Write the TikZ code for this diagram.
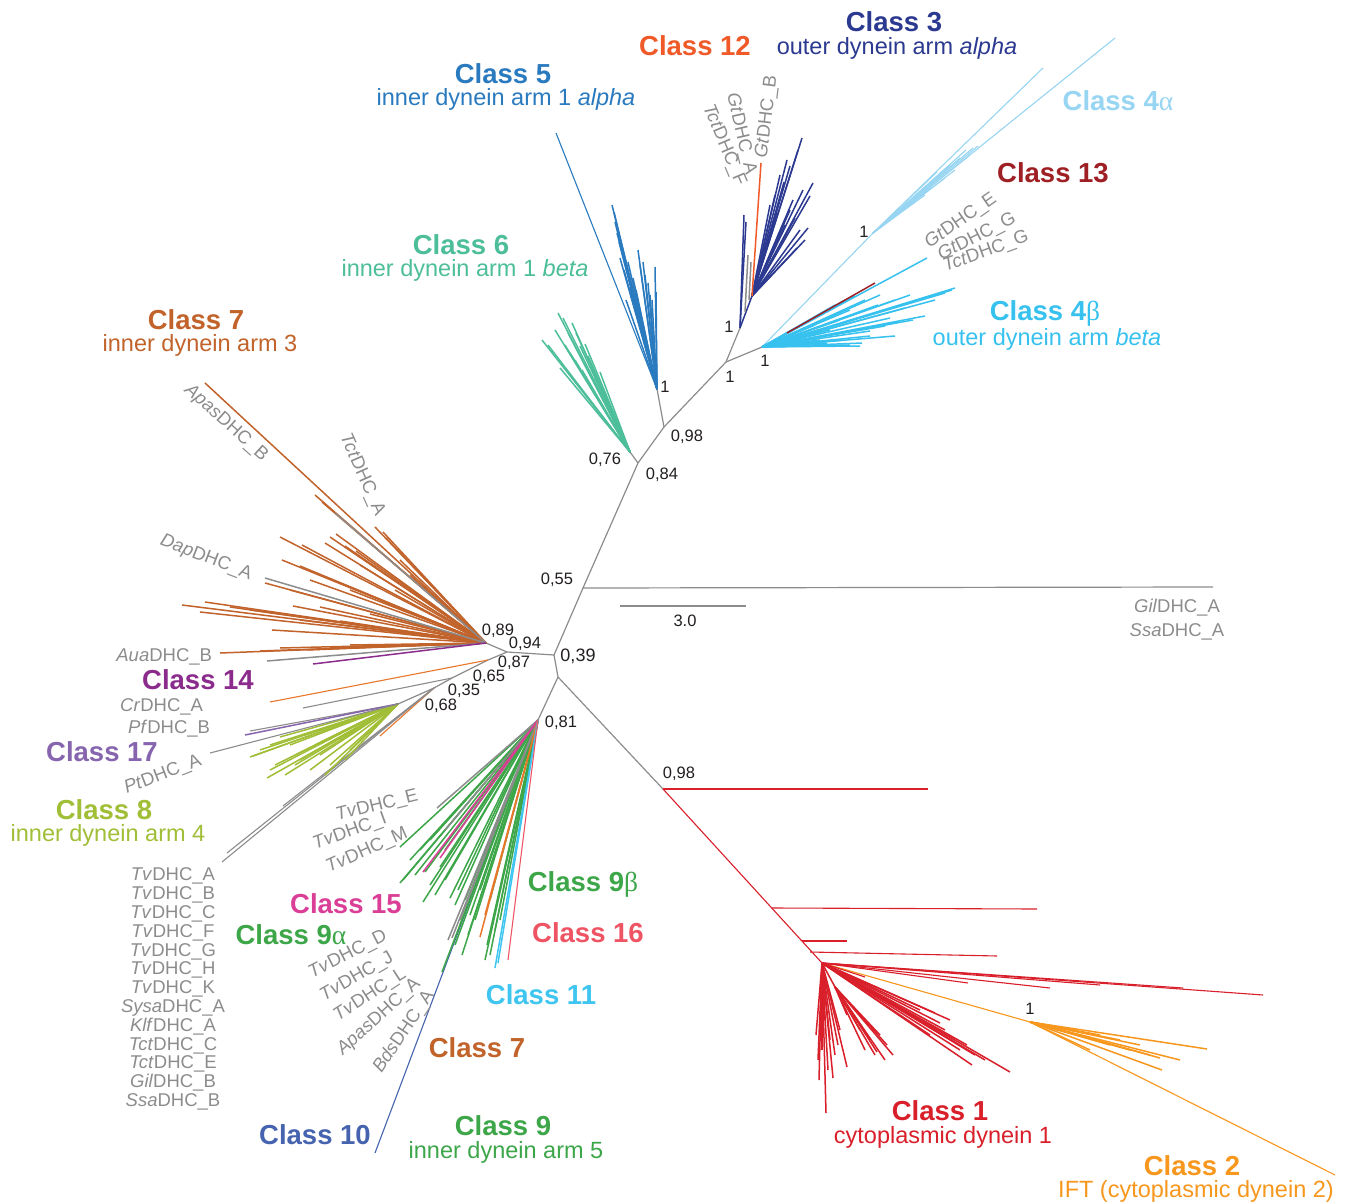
\documentclass[tikz,border=0pt]{standalone}
\usepackage{fontspec}
\setmainfont{Liberation Sans}
\newfontfamily\grk{Liberation Serif}
\definecolor{gry}{HTML}{8C8C8C}
\definecolor{blk}{HTML}{231F20}
\definecolor{cA}{HTML}{D91F2A}
\definecolor{cB}{HTML}{F7971D}
\definecolor{cC}{HTML}{2B3990}
\definecolor{cDa}{HTML}{97D5F2}
\definecolor{cDb}{HTML}{37C1EF}
\definecolor{cE}{HTML}{2A7ABF}
\definecolor{cF}{HTML}{4DBE9A}
\definecolor{cG}{HTML}{C1632B}
\definecolor{cGo}{HTML}{E8772A}
\definecolor{cH}{HTML}{A1BE37}
\definecolor{cI}{HTML}{3CA649}
\definecolor{cJ}{HTML}{4563AE}
\definecolor{cK}{HTML}{3EC5F0}
\definecolor{cL}{HTML}{F05A28}
\definecolor{cM}{HTML}{9E1F24}
\definecolor{cN}{HTML}{8B2C8D}
\definecolor{cO}{HTML}{DB3E96}
\definecolor{cP}{HTML}{EF5464}
\definecolor{cQ}{HTML}{8665AE}
\newcommand\leafset[3]{\foreach \lx/\ly in {#3}{\draw[#1] (#2) -- (\lx,\ly);}}
\begin{document}
\begin{tikzpicture}[x=1pt,y=-1pt,
  every node/.style={inner sep=0pt,outer sep=0pt},
  cls/.style={font=\bfseries\fontsize{27.5}{29}\selectfont},
  sub/.style={font=\fontsize{23.5}{25}\selectfont},
  gl/.style={font=\fontsize{18.5}{19.5}\selectfont,text=gry},
  num/.style={font=\fontsize{16.5}{18}\selectfont,text=blk},
  bb/.style={draw=gry,line width=1.2pt},
  fn/.style={line width=1.5pt},
  ln/.style={line width=1.1pt}]
\fill[white] (0,0) rectangle (1347,1204);
\useasboundingbox (0,0) rectangle (1347,1204);

% internal nodes
\coordinate (n55) at (583,588);
\coordinate (n84) at (638,463);
\coordinate (n98a) at (664,427);
\coordinate (n5) at (657,389);
\coordinate (n6) at (630,452);
\coordinate (n1a) at (726,362);
\coordinate (n3) at (740,328);
\coordinate (n3b) at (752,296);
\coordinate (n4) at (762,347);
\coordinate (n4a) at (873,233);
\coordinate (n13) at (787,333);
\coordinate (n39) at (554,655);
\coordinate (n94) at (507,652);
\coordinate (n89) at (486,643);
\coordinate (n87) at (488,660);
\coordinate (n65) at (452,678);
\coordinate (n35) at (434,688);
\coordinate (n8) at (398,704);
\coordinate (nsp) at (558,677);
\coordinate (n81) at (538,720);
\coordinate (n98b) at (663,789);
\coordinate (n1) at (822,963);
\coordinate (n1m) at (835,987);
\coordinate (n2) at (1030,1022);
\coordinate (n2s) at (865,977);
\coordinate (b1) at (772,908);
\coordinate (b2) at (802,941);
\coordinate (b3) at (810,952);
\coordinate (sbl) at (620,606);
\coordinate (sbr) at (746,606);
\coordinate (gend) at (1213,587);

% backbone
\draw[bb] (n55) -- (n84) -- (n98a) -- (n5);
\draw[bb] (n98a) -- (n1a) -- (n3);
\draw[bb] (n1a) -- (n4);
\draw[bb] (n84) -- (n6);
\draw[bb] (n55) -- (n39) -- (n94) -- (n89);
\draw[bb] (n94) -- (n87) -- (n65) -- (n35) -- (n8);
\draw[bb] (n39) -- (nsp) -- (n81);
\draw[bb] (nsp) -- (n98b);
\draw[bb] (n55) -- (gend);
\draw[bb] (sbl) -- (sbr);

% Class 5
\draw[cE,ln] (n5) -- (556,133);
\leafset{cE,fn}{n5}{612/205,614/212,617/233,619/242,622/250,628/262,630/287,626/300,640/265,643/262,645/275,648/283,650/295,652/300,655/267,656/292,633/278,636/290,624/270,620/258,615/222,638/250}
% Class 6
\leafset{cF,fn}{n6}{542/340,558/313,563/318,572/323,576/333,585/344,560/368,570/353,575/360,580/346,588/356,592/370,565/345,582/370,595/378,600/385,555/330,568/333,590/362,600/372,548/345}
% Class 3
\draw[cC,fn] (n3) -- (n3b);
\leafset{cC,fn}{n3}{744/215,746/222}
\leafset{cC,fn}{n3b}{787/160,790/166,802/138,798/150,813/183,808/228,797/248,780/175,784/182,775/195,793/200,790/210,800/230,805/240,770/205,777/212,785/225,795/218,803/190,810/196,772/230,765/250}
\draw[gry,fn] (745,312) -- (748,255);
\draw[gry,fn] (749,300) -- (751,262);
% Class 12
\draw[cL,fn] (n3b) -- (761,163);
% Class 4 alpha
\draw[cDa,ln] (n4) -- (n4a);
\leafset{cDa,ln}{n4a}{1115/38,1043/68,937/172,950/165,966/150,973/148,978/146,960/158,945/178,930/188,955/170,925/195,970/155}
% Class 4 beta
\leafset{cDb,fn}{n4}{927/258,955/288,952/290,945/293,913/320,925/316,900/322,890/318,862/343,860/346,827/343,845/340,870/331,885/326,905/308,878/305,865/300,850/310,840/320,830/330,815/325,820/315,845/300,855/296,835/305,870/336,895/336,850/345,820/340,880/295,895/300,910/295,935/300}
% Class 13
\draw[cM,fn] (n13) -- (875,283);
% Class 7 (upper)
\leafset{cG,fn}{n89}{205/383,315/495,322/502,375/527,383/532,386/538,280/537,302/545,330/537,336/534,325/543,345/546,356/551,265/583,272/630,182/605,205/602,200/612,293/606,320/607,250/610,230/607,300/620,340/621,370/614,290/590,310/580,282/560,300/566,320/575,350/590,380/600,220/653,307/650,280/648,330/648,350/645,260/651,400/560,410/575,395/590,360/565}
\leafset{gry,fn}{n89}{335/513,265/578,267/661}
\draw[cN,fn] (n89) -- (313,664);
% small branches 0,87 / 0,65 / 0,68
\draw[cGo,ln] (n87) -- (270,702);
\draw[gry,ln] (n65) -- (303,708);
\draw[cGo,ln] (n35) -- (380,736);
\leafset{gry,ln}{n35}{227/853,222/862,283/806}
% Class 8 and 17
\leafset{cH,fn}{n8}{280/737,250/757,267/778,253/756,270/745,290/745,300/760,275/765,310/770,285/775,320/755,330/765,295/755,260/750,315/745,340/740,305/735,350/750,270/770,295/765,345/760,325/775}
\draw[gry,ln] (n8) -- (250,731);
\draw[cQ,fn] (n8) -- (245,735);
\draw[gry,ln] (n8) -- (210,753);
% Class 9 group
\draw[cJ,ln] (n81) -- (375,1153);
\leafset{cI,fn}{n81}{400/883,403/880,400/847,423/902,450/898,425/872,440/867,410/860,415/875,430/885,445/880,455/905,460/925,468/935,470/915,435/895,420/850,430/840,445/850,458/890,465/900,475/920,480/890,490/900,442/972,487/945,495/930,500/920,485/960,490/955,462/955,455/945}
\leafset{gry,fn}{n81}{437/808,448/940,452/938,460/920,445/830}
\leafset{cO,fn}{n81}{423/872,440/858}
\leafset{cGo,fn}{n81}{480/937,485/915}
\leafset{cK,fn}{n81}{495/968,498/963}
\leafset{cP,ln}{n81}{508/960}
% Class 1 and 2
\draw[cA,ln] (n98b) -- (928,789);
\draw[cA,ln] (n98b) -- (n1);
\draw[cA,ln] (b1) -- (1037,909);
\draw[cA,ln] (b2) -- (847,941);
\draw[cA,ln] (b3) -- (997,956);
\draw[cB,ln] (n1) -- (n2);
\leafset{cB,fn}{n2}{1207/1049,1180/1060,1162/1070,1150/1055,1140/1045,1120/1040,1100/1035,1130/1050,1160/1058,1110/1045,1075/1030,1090/1050}
\draw[cB,ln] (n2) -- (1335,1175);
\leafset{cA,ln}{n1}{1263/995,1183/988,1100/985,968/983,1050/988}
\draw[cA,ln] (n1) -- (n2s);
\leafset{cA,fn}{n1}{819/1080,826/1113,847/1067,818/1060,822/1050,830/1040,835/1055,840/1030,828/1070,833/1078,816/1035,825/1020,838/1045}
\draw[cA,fn] (n1) -- (n1m);
\leafset{cA,fn}{n1m}{877/1052,893/1055,887/1045,847/1015,870/1040,880/1035,860/1030,875/1055,865/1050,885/1060}
\leafset{cA,fn}{n1}{972/1065,1010/1072,935/1013,940/1023,967/1045,955/1040,945/1030,960/1050,975/1055,950/1020,920/1010,930/1035,985/1060}

% class labels
\node[cls,text=cC] (t3) at (894,22) {Class 3};
\node[sub,text=cC] (s3) at (897,48) {outer dynein arm \textit{alpha}};
\node[cls,text=cL] (t12) at (695,46) {Class 12};
\node[cls,text=cE] (t5) at (503,74) {Class 5};
\node[sub,text=cE] (s5) at (506,99) {inner dynein arm 1 \textit{alpha}};
\node[cls,text=cDa] (t4a) at (1118,101) {Class 4{\grk\mdseries α}};
\node[cls,text=cM] (t13) at (1053,173) {Class 13};
\node[cls,text=cF] (t6) at (461,245) {Class 6};
\node[sub,text=cF] (s6) at (465,270) {inner dynein arm 1 \textit{beta}};
\node[cls,text=cDb] (t4b) at (1045,313) {Class 4{\grk\mdseries β}};
\node[sub,text=cDb] (s4b) at (1047,339) {outer dynein arm \textit{beta}};
\node[cls,text=cG] (t7) at (196,320) {Class 7};
\node[sub,text=cG] (s7) at (200,345) {inner dynein arm 3};
\node[cls,text=cN] (t14) at (198,680) {Class 14};
\node[cls,text=cQ] (t17) at (102,752) {Class 17};
\node[cls,text=cH] (t8) at (104,810) {Class 8};
\node[sub,text=cH] (s8) at (108,835) {inner dynein arm 4};
\node[cls,text=cO] (t15) at (346,904) {Class 15};
\node[cls,text=cI] (t9a) at (291,935) {Class 9{\grk\mdseries α}};
\node[cls,text=cI] (t9b) at (583,884) {Class 9{\grk\mdseries β}};
\node[cls,text=cP] (t16) at (588,933) {Class 16};
\node[cls,text=cK] (t11) at (541,995) {Class 11};
\node[cls,text=cG] (t7b) at (477,1048) {Class 7};
\node[cls,text=cJ] (t10) at (315,1135) {Class 10};
\node[cls,text=cI] (t9) at (503,1126) {Class 9};
\node[sub,text=cI] (s9) at (506,1152) {inner dynein arm 5};
\node[cls,text=cA] (t1) at (940,1111) {Class 1};
\node[sub,text=cA] (s1) at (943,1137) {cytoplasmic dynein 1};
\node[cls,text=cB] (t2) at (1192,1166) {Class 2};
\node[sub,text=cB] (s2) at (1196,1191) {IFT (cytoplasmic dynein 2)};

% gray sequence labels
\node[gl,rotate=83] (g1) at (767,117) {\textit{Gt}DHC\_B};
\node[gl,rotate=-77] (g2) at (741,134) {\textit{Gt}DHC\_A};
\node[gl,rotate=-67] (g3) at (724,145) {\textit{Tct}DHC\_F};
\node[gl,rotate=35] (g4) at (961,221) {\textit{Gt}DHC\_E};
\node[gl,rotate=27] (g5) at (977,237) {\textit{Gt}DHC\_G};
\node[gl,rotate=20] (g6) at (986,252) {\textit{Tct}DHC\_G};
\node[gl,rotate=-42] (g7) at (226,423) {\textit{Apas}DHC\_B};
\node[gl,rotate=-66] (g8) at (362,475) {\textit{Tct}DHC\_A};
\node[gl,rotate=-21] (g9) at (206,558) {\textit{Dap}DHC\_A};
\node[gl,anchor=east] (g10) at (212,657) {\textit{Aua}DHC\_B};
\node[gl,anchor=east] (g11) at (203,707) {\textit{Cr}DHC\_A};
\node[gl,anchor=east] (g12) at (210,729) {\textit{Pf}DHC\_B};
\node[gl,rotate=21] (g13) at (163,775) {\textit{Pt}DHC\_A};
\node[gl,rotate=14] (g14) at (377,806) {\textit{Tv}DHC\_E};
\node[gl,rotate=20] (g15) at (350,832) {\textit{Tv}DHC\_I};
\node[gl,rotate=24] (g16) at (367,851) {\textit{Tv}DHC\_M};
\node[gl,rotate=27] (g17) at (348,955) {\textit{Tv}DHC\_D};
\node[gl,rotate=30] (g18) at (357,977) {\textit{Tv}DHC\_J};
\node[gl,rotate=33] (g19) at (370,995) {\textit{Tv}DHC\_L};
\node[gl,rotate=42] (g20) at (379,1017) {\textit{Apas}DHC\_A};
\node[gl,rotate=56] (g21) at (404,1032) {\textit{Bds}DHC\_A};
\node[gl,align=center,font=\fontsize{18.5}{18.8}\selectfont] (g22) at (173,989) {\textit{Tv}DHC\_A\\\textit{Tv}DHC\_B\\\textit{Tv}DHC\_C\\\textit{Tv}DHC\_F\\\textit{Tv}DHC\_G\\\textit{Tv}DHC\_H\\\textit{Tv}DHC\_K\\\textit{Sysa}DHC\_A\\\textit{Klf}DHC\_A\\\textit{Tct}DHC\_C\\\textit{Tct}DHC\_E\\\textit{Gil}DHC\_B\\\textit{Ssa}DHC\_B};
\node[gl,align=center,font=\fontsize{18.5}{24}\selectfont] (g23) at (1177,620) {\textit{Gil}DHC\_A\\\textit{Ssa}DHC\_A};

% support values
\node[num] (v1) at (864,232) {1};
\node[num] (v2) at (729,327) {1};
\node[num] (v3) at (730,377) {1};
\node[num] (v4) at (765,361) {1};
\node[num] (v5) at (665,387) {1};
\node[num] (v6) at (687,437) {0,98};
\node[num] (v7) at (605,460) {0,76};
\node[num] (v8) at (662,475) {0,84};
\node[num] (v9) at (557,580) {0,55};
\node[num] (v10) at (685,621) {3.0};
\node[num,font=\fontsize{18}{20}\selectfont] (v11) at (578,656) {0,39};
\node[num] (v12) at (498,631) {0,89};
\node[num] (v13) at (525,644) {0,94};
\node[num] (v14) at (514,663) {0,87};
\node[num] (v15) at (489,677) {0,65};
\node[num] (v16) at (464,691) {0,35};
\node[num] (v17) at (441,706) {0,68};
\node[num] (v18) at (561,723) {0,81};
\node[num] (v19) at (679,774) {0,98};
\node[num] (v20) at (1030,1009) {1};
\end{tikzpicture}
\end{document}
